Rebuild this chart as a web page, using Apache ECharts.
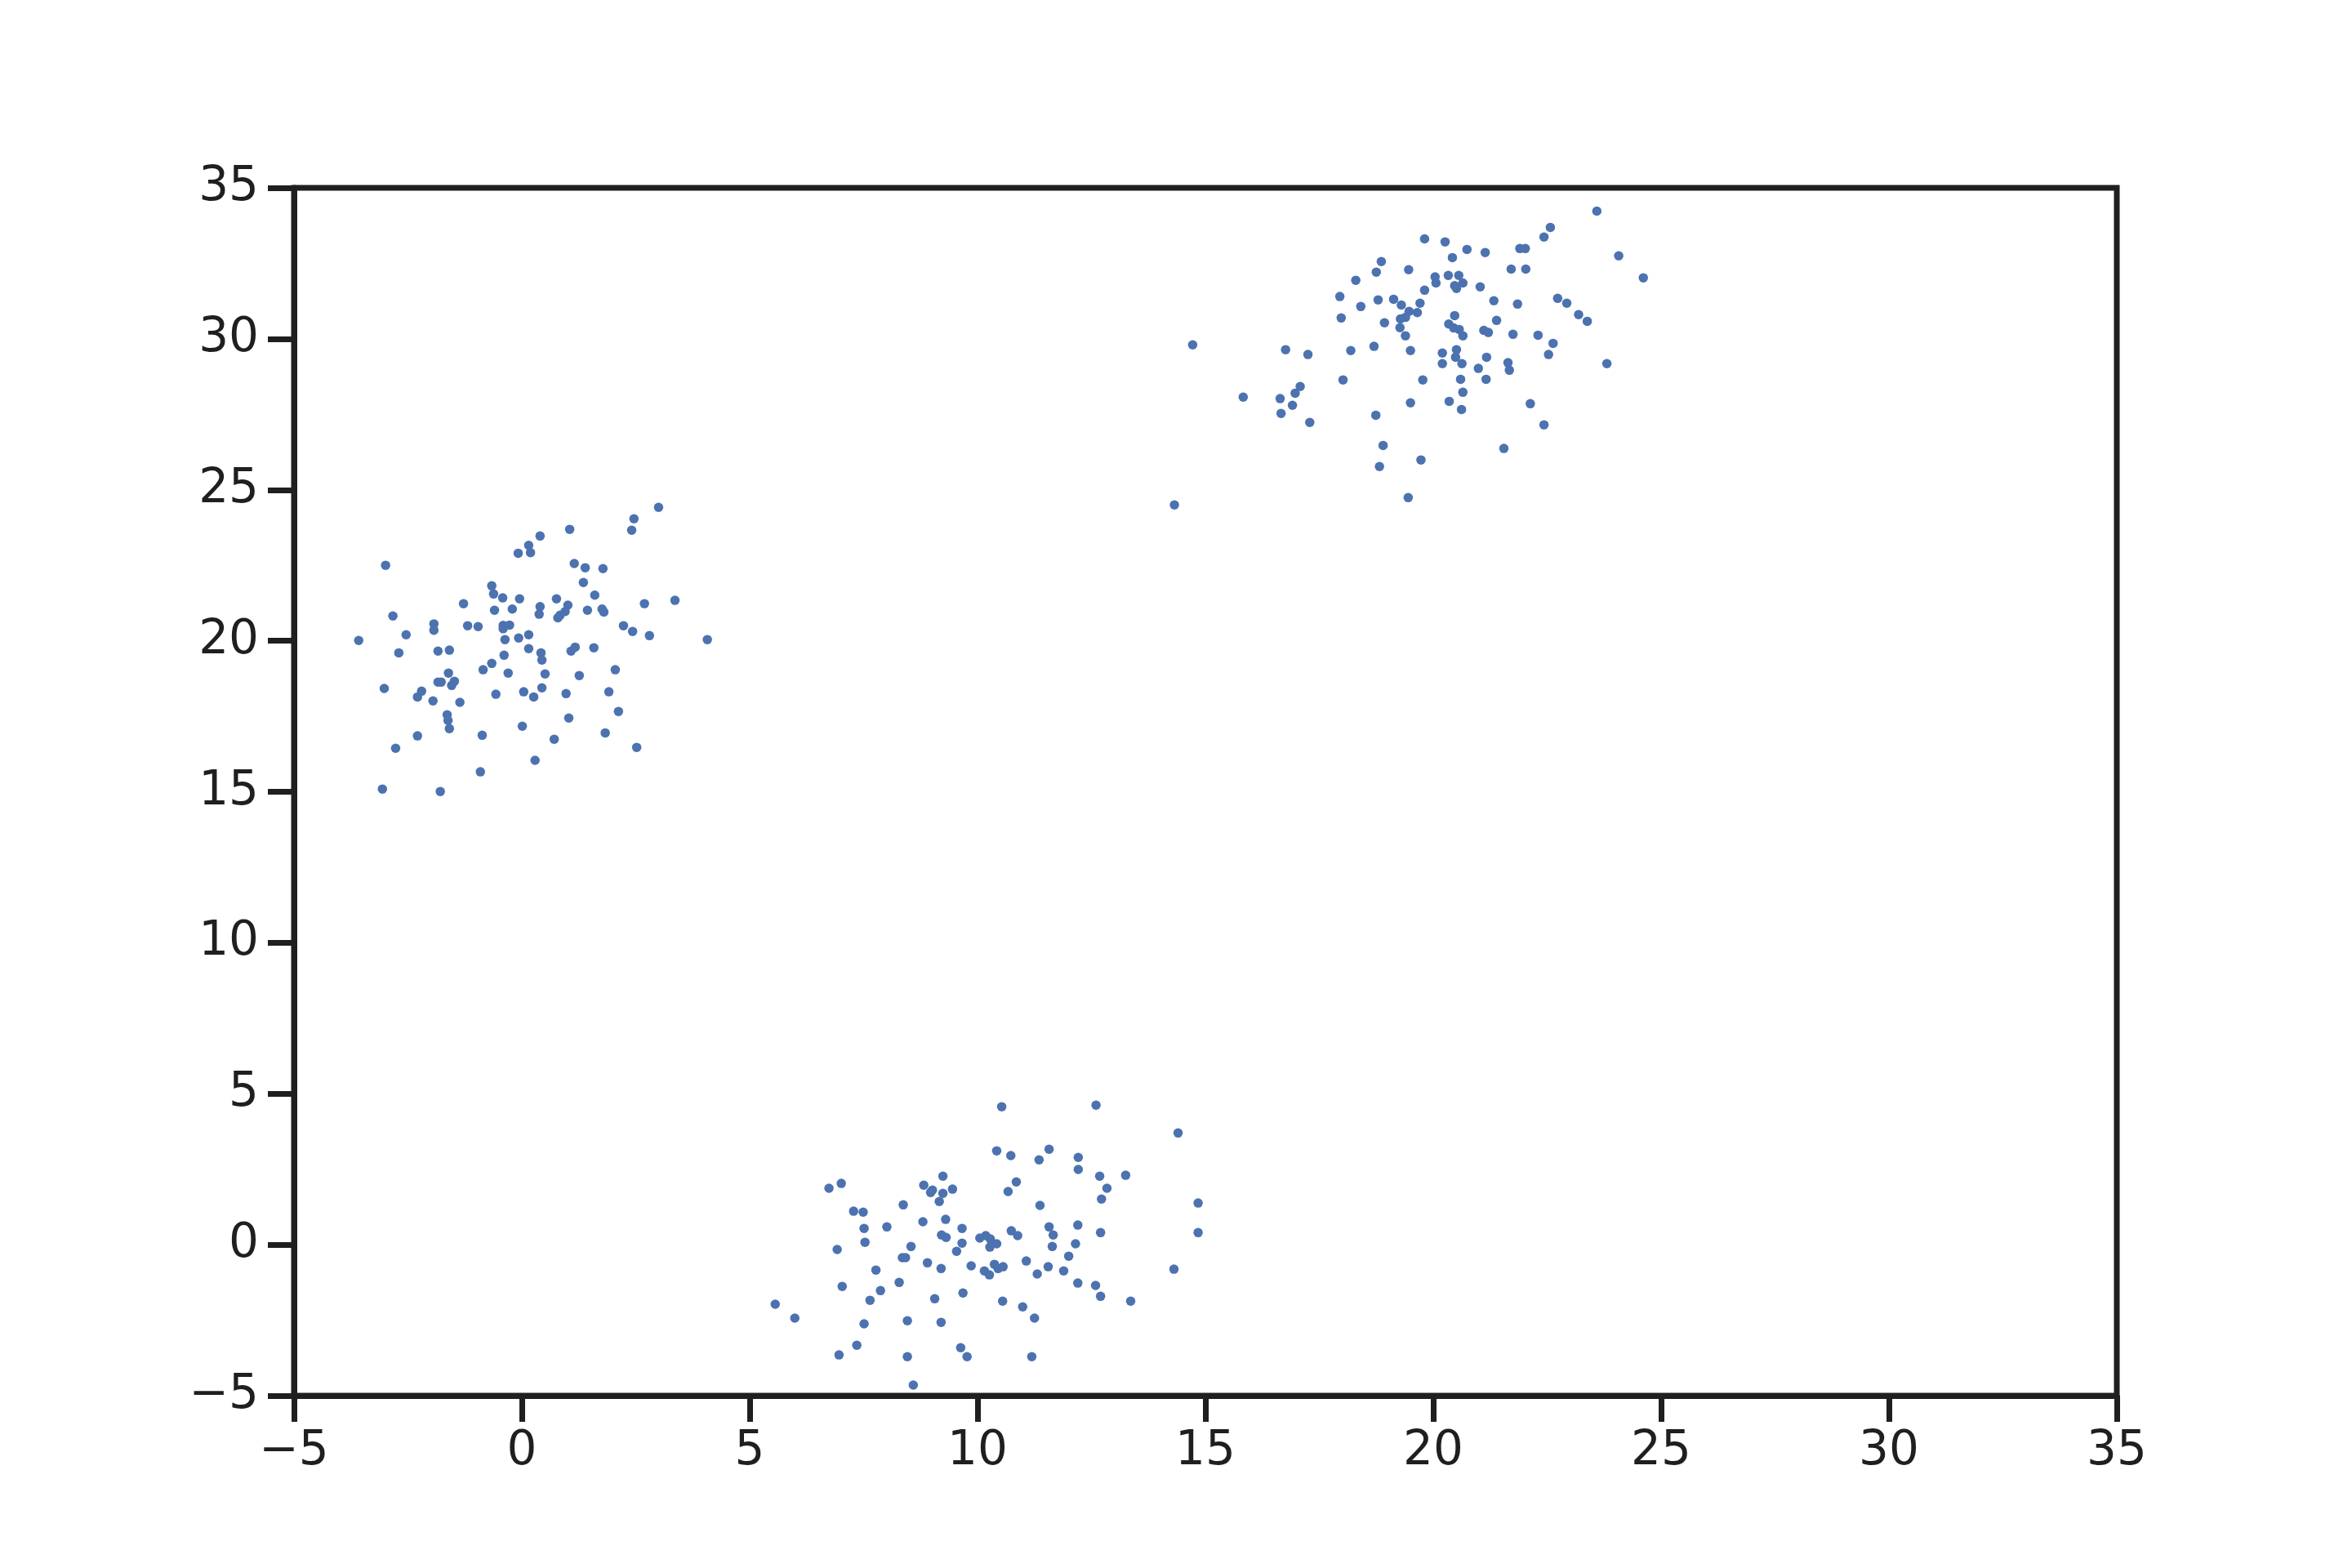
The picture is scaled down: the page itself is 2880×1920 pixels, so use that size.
<!DOCTYPE html>
<html>
<head>
<meta charset="utf-8">
<script src="https://cdn.jsdelivr.net/npm/echarts@6/dist/echarts.min.js"></script>
<style>html,body{margin:0;padding:0;background:#fff}#c{width:2880px;height:1920px}</style>
</head>
<body>
<div id="c"></div>
<script>
const clusterA = [
[3.00,24.42],[2.46,24.04],[2.41,23.66],[1.05,23.69],[0.40,23.47],[0.15,23.16],[0.19,22.92],[-0.08,22.90],
[-2.99,22.50],[1.15,22.56],[1.39,22.42],[1.78,22.39],[1.35,21.93],[-0.66,21.82],[-0.62,21.55],[-0.42,21.42],
[-0.05,21.39],[0.76,21.39],[1.60,21.51],[-1.28,21.23],[2.69,21.23],[3.36,21.34],[-0.60,21.01],[-0.21,21.05],
[0.40,21.13],[0.38,20.88],[1.01,21.18],[0.95,20.97],[0.84,20.85],[0.79,20.76],[1.44,21.01],[1.76,21.05],
[1.80,20.95],[-2.83,20.82],[-1.93,20.56],[-1.93,20.35],[-1.19,20.50],[-0.96,20.47],[-0.41,20.51],[-0.27,20.52],
[-0.41,20.40],[2.23,20.50],[2.43,20.31],[2.80,20.17],[-3.58,20.01],[-2.54,20.20],[-0.37,20.04],[-0.07,20.09],
[0.15,20.20],[4.07,20.04],[-2.70,19.60],[-1.84,19.66],[-1.59,19.69],[0.15,19.74],[0.42,19.60],[0.44,19.36],
[1.08,19.66],[1.17,19.79],[1.58,19.77],[-0.39,19.52],[-0.66,19.25],[-0.85,19.04],[-0.30,18.93],[-1.61,18.93],
[0.51,18.90],[1.26,18.85],[2.05,19.04],[-1.84,18.63],[-1.77,18.63],[-1.48,18.66],[-1.54,18.52],[-3.02,18.42],
[-2.20,18.33],[-2.29,18.14],[-1.95,18.01],[-1.36,17.96],[-0.57,18.23],[0.04,18.31],[0.26,18.14],[0.44,18.44],
[0.97,18.25],[1.91,18.31],[2.12,17.66],[1.03,17.44],[-1.64,17.55],[-1.62,17.36],[-1.59,17.09],[-2.29,16.85],
[-0.87,16.87],[0.01,17.17],[0.71,16.74],[1.83,16.95],[-2.77,16.44],[2.52,16.47],[0.29,16.04],[-0.91,15.66],
[-3.06,15.09],[-1.79,15.01]
];
const clusterB = [
[10.53,4.57],[12.60,4.62],[14.40,3.70],[10.42,3.11],[10.73,2.95],[11.57,3.16],[11.35,2.81],[12.21,2.89],
[12.21,2.49],[12.68,2.27],[13.25,2.30],[12.84,1.87],[12.72,1.51],[10.85,2.08],[10.67,1.76],[9.24,2.27],
[8.82,1.97],[9.01,1.81],[8.97,1.73],[9.24,1.70],[9.45,1.84],[9.16,1.43],[6.74,1.87],[7.01,2.03],
[14.84,1.38],[11.37,1.30],[8.37,1.32],[7.28,1.11],[7.49,1.08],[7.51,0.54],[8.01,0.59],[8.80,0.76],
[9.30,0.84],[9.66,0.54],[9.21,0.32],[9.31,0.24],[9.66,0.05],[7.53,0.08],[8.54,-0.06],[6.92,-0.16],
[9.54,-0.22],[10.05,0.22],[10.18,0.30],[10.28,0.19],[10.42,0.03],[10.27,-0.08],[10.74,0.46],[10.88,0.30],
[11.57,0.59],[11.66,0.32],[12.20,0.65],[12.70,0.40],[14.84,0.40],[11.64,-0.06],[12.15,0.03],[12.00,-0.38],
[8.35,-0.43],[8.42,-0.43],[8.90,-0.60],[9.20,-0.79],[9.86,-0.70],[10.37,-0.65],[10.45,-0.79],[10.56,-0.73],
[10.15,-0.87],[10.26,-1.00],[11.07,-0.54],[11.55,-0.73],[11.31,-0.97],[11.89,-0.87],[7.77,-0.84],[14.31,-0.81],
[7.03,-1.38],[8.28,-1.25],[7.87,-1.52],[7.64,-1.84],[9.06,-1.79],[9.68,-1.60],[12.20,-1.27],[12.59,-1.35],
[12.70,-1.71],[10.55,-1.87],[10.99,-2.06],[13.36,-1.87],[5.56,-1.97],[5.99,-2.43],[7.51,-2.62],[8.46,-2.52],
[9.20,-2.57],[11.25,-2.43],[7.35,-3.33],[6.96,-3.65],[8.46,-3.71],[9.63,-3.41],[9.77,-3.71],[11.19,-3.71],
[8.59,-4.65]
];
const clusterC = [
[23.59,34.23],[22.57,33.69],[22.43,33.37],[21.90,32.99],[22.02,32.99],[24.07,32.75],[24.61,32.02],[19.81,33.31],
[20.26,33.21],[20.74,32.96],[21.14,32.86],[20.42,32.69],[18.86,32.56],[18.75,32.21],[19.46,32.29],[18.30,31.94],
[21.71,32.31],[22.03,32.31],[20.04,32.05],[20.33,32.10],[20.56,32.10],[20.06,31.85],[20.65,31.85],[20.47,31.76],
[20.51,31.67],[21.03,31.72],[19.81,31.61],[17.95,31.40],[18.79,31.29],[19.13,31.31],[19.30,31.12],[19.71,31.18],
[18.41,31.07],[21.33,31.26],[21.85,31.15],[22.73,31.34],[22.93,31.18],[19.47,30.91],[19.65,30.87],[19.39,30.71],
[19.28,30.66],[17.98,30.69],[20.47,30.77],[18.93,30.53],[20.34,30.49],[20.45,30.36],[20.57,30.31],[20.65,30.10],
[21.39,30.61],[23.19,30.80],[23.38,30.58],[19.27,30.37],[19.39,30.10],[21.11,30.28],[21.21,30.21],[21.75,30.15],
[22.30,30.12],[22.63,29.85],[14.72,29.80],[16.76,29.64],[17.25,29.48],[18.19,29.61],[18.70,29.75],[19.50,29.61],
[20.51,29.64],[20.20,29.53],[20.49,29.39],[21.17,29.39],[22.53,29.48],[20.20,29.18],[20.63,29.18],[20.99,29.02],
[21.64,29.21],[21.67,28.96],[23.81,29.18],[18.02,28.64],[19.77,28.64],[20.60,28.66],[21.16,28.66],[17.08,28.42],
[16.97,28.20],[15.83,28.07],[16.64,28.02],[16.91,27.80],[16.66,27.53],[17.29,27.23],[20.65,28.23],[19.50,27.88],
[20.35,27.93],[20.62,27.66],[22.13,27.85],[18.74,27.47],[22.43,27.15],[18.90,26.47],[21.55,26.37],[19.73,25.99],
[18.82,25.77],[19.45,24.74],[14.32,24.50]
];
const xTicks = [-5, 0, 5, 10, 15, 20, 25, 30, 35];
const yTicks = [-5, 0, 5, 10, 15, 20, 25, 30, 35];

const points = clusterA.concat(clusterB, clusterC);
const ink = '#1f1f1f';
const fmt = v => String(v).replace('-', '\u2212');
const axisCommon = {
  interval: 5,
  axisLine: {show: true, onZero: false, lineStyle: {color: ink, width: 7}},
  axisTick: {show: true, inside: false, length: 32, lineStyle: {color: ink, width: 7}},
  splitLine: {show: false},
  axisLabel: {color: ink, fontSize: 58, fontFamily: 'DejaVu Sans', formatter: fmt}
};
const chart = echarts.init(document.getElementById('c'), null, {renderer: 'canvas'});
chart.setOption({
  animation: false,
  backgroundColor: '#ffffff',
  grid: {left: 360, right: 288, top: 230, bottom: 211, show: true, borderColor: ink, borderWidth: 7, backgroundColor: 'transparent'},
  xAxis: Object.assign({}, axisCommon, {type: 'value', min: xTicks[0], max: xTicks[xTicks.length - 1],
    axisLabel: Object.assign({}, axisCommon.axisLabel, {margin: 40})}),
  yAxis: Object.assign({}, axisCommon, {type: 'value', min: yTicks[0], max: yTicks[yTicks.length - 1],
    axisLabel: Object.assign({}, axisCommon.axisLabel, {margin: 43})}),
  series: [{
    type: 'scatter',
    data: points,
    symbol: 'circle',
    symbolSize: 11.5,
    itemStyle: {color: '#4c72b0', opacity: 1},
    silent: true
  }]
});
</script>
</body>
</html>
